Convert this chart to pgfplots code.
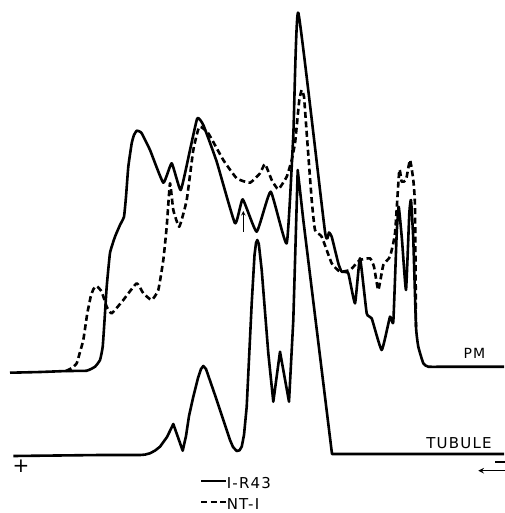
\documentclass[border=0pt]{standalone}
\usepackage{fontspec}
\setmainfont{DejaVu Sans}
\newfontfamily\lbl[LetterSpace=8]{DejaVu Sans}
\usepackage{pgfplots}
\pgfplotsset{compat=1.18}

\begin{document}
\begin{tikzpicture}
\begin{axis}[
    scale only axis,
    width=504pt, height=513pt,
    xmin=0, xmax=504, ymin=0, ymax=513,
    y dir=reverse,
    axis lines=none,
    clip=false,
    trace/.style={black, no markers, line width=2.6pt, line join=round, smooth, tension=0.25},
    legend style={at={(axis cs:200,477)}, anchor=north west, draw=none, fill=none,
        inner sep=0pt, row sep=10pt, font=\lbl\fontsize{15}{15}\selectfont,
        nodes={inner sep=0pt, text height=11pt, text depth=0pt}},
    legend cell align=left,
    legend image code/.code={\draw[#1, line width=1.6pt] (0pt,1.5pt) -- (25pt,1.5pt);},
    /tikz/every even column/.append style={column sep=5pt},
]
% PM, I-R43
\addplot[trace] coordinates {
(10,372.7)(40,372)(66.7,371)(86.7,370.7)(95,366.7)(100,360)(102.7,346.7)
(105,313)(106.7,286.7)(110,253)(115,236.7)(120,225)(124,216.7)(126,196.7)
(128.3,166.7)(131.7,143.3)(134,135)(136.7,130.7)(139.5,131.5)(141.7,133.3)(150,150)(163.3,182.7)
(171.7,163.3)(180.7,190)(190,150)(197.3,118.3)(203.3,125)(216.7,161.7)
(235,223.3)(242.7,199.3)(256.7,231.7)(270.7,191.7)(286.7,243.3)(293.3,135)
(298.3,12.7)(325,231.7)(329,232.5)(331.7,236.7)(338.3,263.3)(341.7,271.7)
(348.3,273.3)(355,303.3)(360,258.3)(366.7,313.3)(371.7,318.3)(381.7,350)
(390,316.7)(393.3,321.7)(396.7,233.3)(398.7,206.7)(402,240)(406,290)
(409.3,213.3)(411,200)(413.3,240)(416,326.7)(418.3,346.7)(423.3,363.3)
(428.3,366.7)(450,366.7)(504,366.7)
};
% PM, NT-I
\addplot[trace, dash pattern=on 6pt off 3.5pt] coordinates {
(66,371)(72,368)(76.7,363.3)(80,352)(83.3,340)(87.3,313.3)(90.7,296.7)
(93.5,289)(96.7,286)(101.7,291.7)(106.7,306.7)(111.7,313.3)(123.3,300)
(136.7,283.3)(143.3,293.3)(151.7,300)(158.3,290)(163.3,260)(166.7,226.7)
(170,183.3)(173.3,210)(179.3,226.7)(186.7,200)(193.3,150)(199.3,126.7)
(208.3,133.3)(223.3,160)(236.7,178.3)(250,182.7)(260,173.3)(265,164)
(271.7,180)(278.3,189.3)(286.7,176.7)(291.7,160)(295,143.3)(296.7,126.7)
(299.3,100)(301.7,90)(304,96.7)(306.7,133.3)(311.7,200)(315,230)
(321.7,236.7)(331.7,263.3)(340,271.7)(350,270)(355,265)(360,260)(370,258.3)
(374,266.7)(378.3,290)(383.3,265)(390,256.7)(395,233.3)(399.3,170)
(401.7,181.7)(406,180)(410,160)(413.3,180)(415,206.7)(416,326.7)
};
% TUBULE, I-R43
\addplot[black, no markers, line width=2.6pt, line join=round] coordinates {
(13.3,456)(100,455)(140,455)(145,454.6)(150,453.3)(155,450.6)(160,446.7)(167,437)(173.3,424)
(182.7,450.7)(186,436)(189,416)(193.3,396.7)(198,378)(201,369)(203.3,366)(206,369)
(216.7,400)(230,440)(233,447)(236.7,451)(239.5,450.3)(241.7,446.7)(244,435)
(246.7,406.7)(251.7,303.3)(254.5,255)(256,243)(257.3,240)(258.8,244)
(261.7,270)(268.3,353.3)(273.3,401.7)(280,351.7)(289,401.7)(293.3,320)
(297.7,170)(303.3,220)(332,454)(400,454)(504,454)
};
\legend{I-R43, NT-I}

\node[font=\lbl\fontsize{14}{14}\selectfont] at (axis cs:474.5,353) {PM};
\node[font=\lbl\fontsize{15}{15}\selectfont] at (axis cs:459,443) {TUBULE};
\node[font=\fontsize{20}{20}\selectfont] at (axis cs:21,466.7) {+};
\draw[line width=1.5pt] (axis cs:495,462) -- (axis cs:506,462);
\draw[line width=1.5pt, -stealth] (axis cs:506,470.7) -- (axis cs:478.3,470.7);
\draw[line width=1pt, -stealth] (axis cs:243.3,231.7) -- (axis cs:243.3,211);
\end{axis}
\pgfresetboundingbox
\useasboundingbox (0,0) rectangle (504pt,513pt);
\end{tikzpicture}
\end{document}
